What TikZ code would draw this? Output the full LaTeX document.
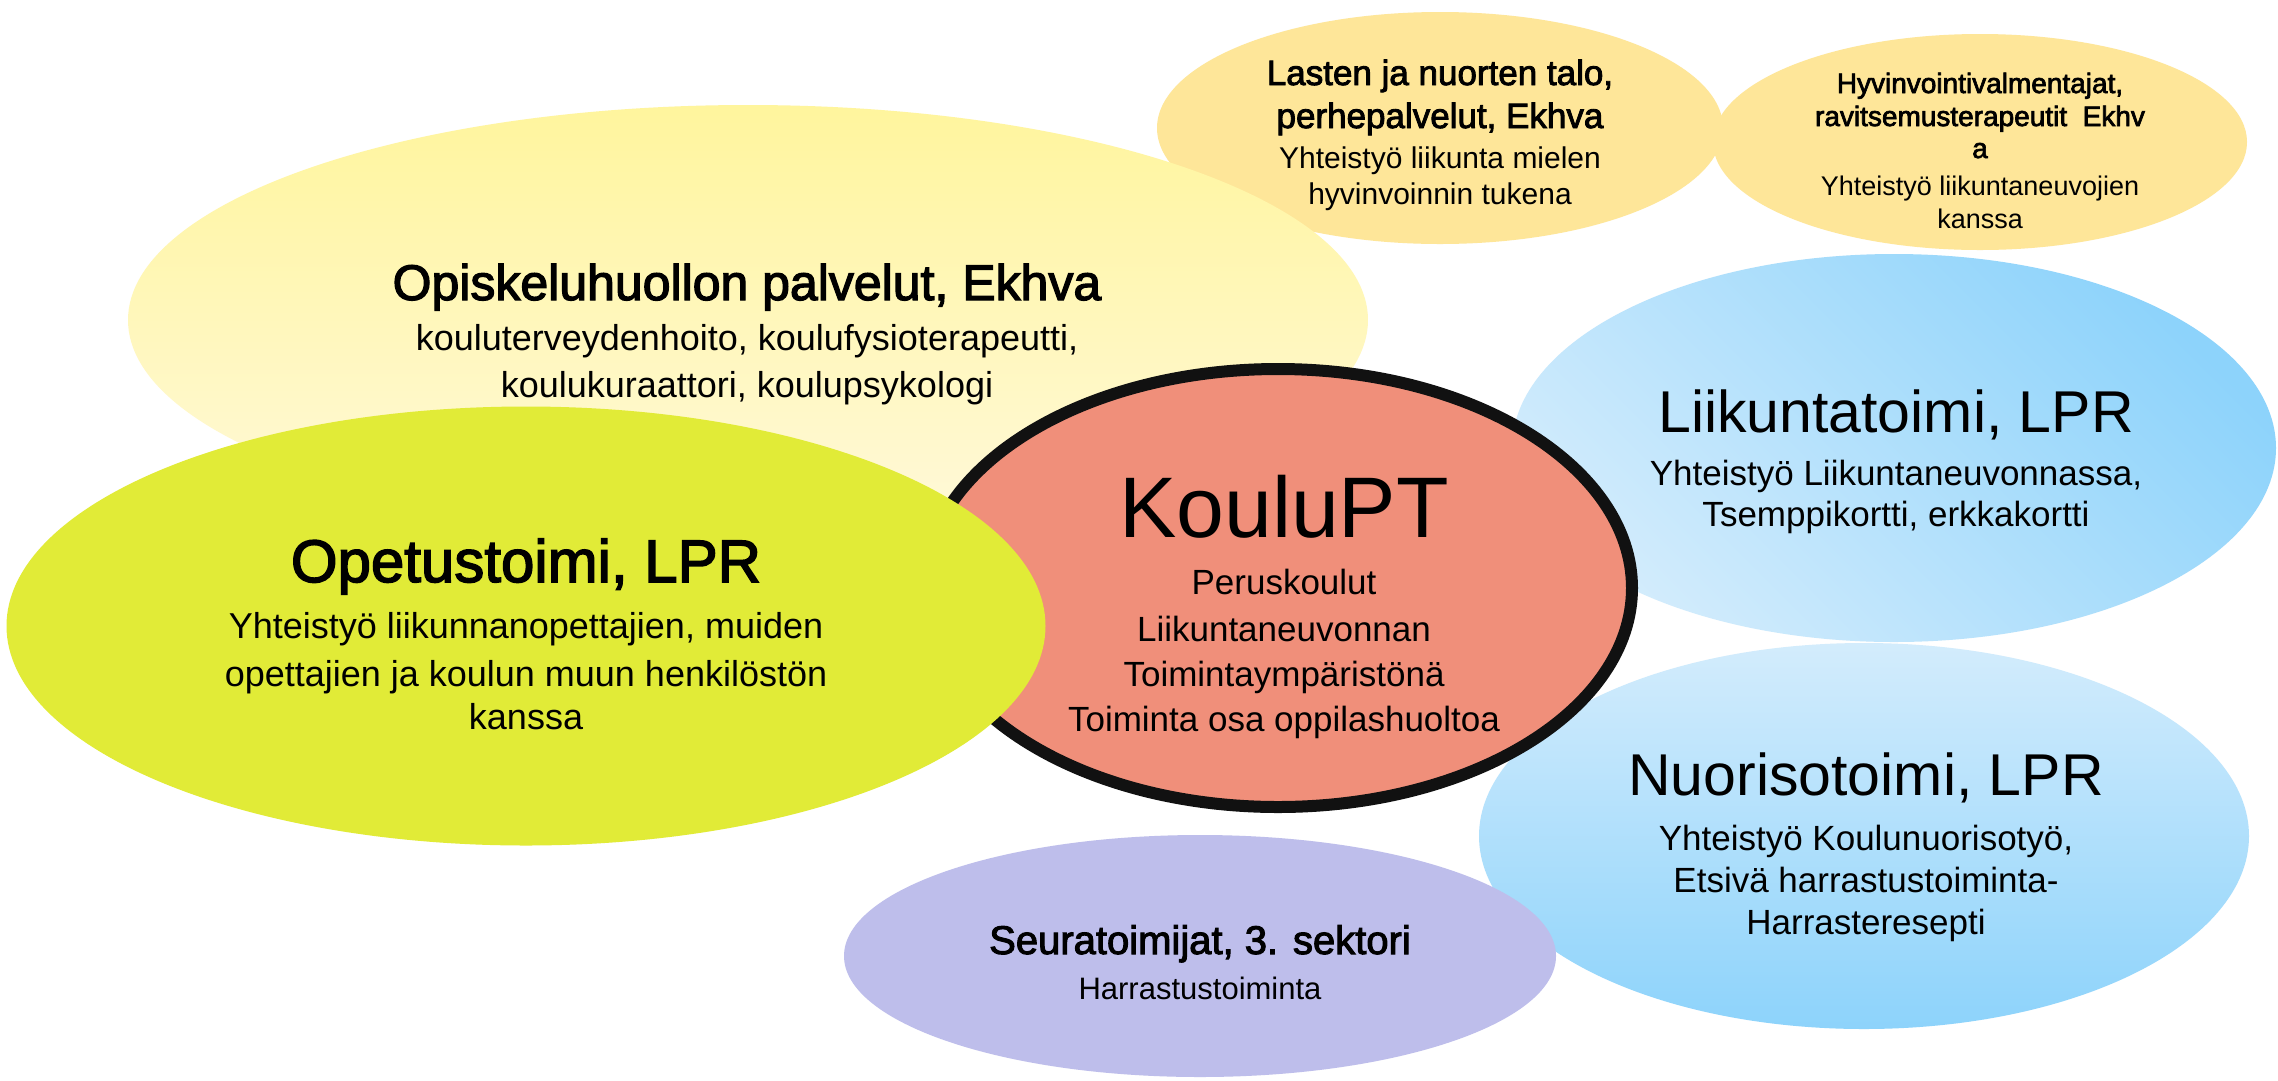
\documentclass[tikz,border=0pt]{standalone}
\usepackage{fontspec}
\setmainfont{Liberation Sans}
\newfontfamily\medfont[FakeBold=2.5]{Liberation Sans}
\usetikzlibrary{shapes.geometric}
\definecolor{yelTop}{HTML}{FFF59D}
\definecolor{yelBot}{HTML}{FFF9DA}
\definecolor{cLime}{HTML}{E1EB37}
\definecolor{cSalmon}{HTML}{F08F7A}
\definecolor{cGold}{HTML}{FEE699}
\definecolor{cPurple}{HTML}{BEBEEB}
\definecolor{cBlueL}{HTML}{D3ECFC}
\definecolor{cBlueD}{HTML}{8DD3FB}
\definecolor{cBorder}{HTML}{111111}
\tikzset{
  blob/.style={ellipse, inner sep=0pt, outer sep=0pt, draw=none},
  txt/.style={anchor=base, inner sep=0pt, font=\fontsize{#1}{#1}\selectfont},
  medtxt/.style={anchor=base, inner sep=0pt, font=\medfont\fontsize{#1}{#1}\selectfont}
}
\begin{document}
\begin{tikzpicture}[x=1pt,y=-1pt]
\path[use as bounding box, fill=white] (0,0) rectangle (2278,1080);
% ellipses, back to front
\node[blob, minimum width=566pt, minimum height=232pt, fill=cGold] (lasten) at (1440,128) {};
\node[blob, minimum width=534pt, minimum height=216pt, fill=cGold] (hyv) at (1980,142) {};
\node[blob, minimum width=1240pt, minimum height=430pt, top color=yelTop, bottom color=yelBot] (opis) at (748,320) {};
\node[blob, minimum width=764pt, minimum height=388pt, top color=cBlueD, bottom color=cBlueL, shading angle=-45] (liik) at (1894,448) {};
\node[blob, minimum width=770pt, minimum height=386pt, top color=cBlueL, bottom color=cBlueD] (nuor) at (1864,836) {};
\node[blob, minimum width=712pt, minimum height=242pt, fill=cPurple] (seura) at (1200,956) {};
\node[blob, minimum width=708pt, minimum height=438pt, fill=cSalmon, draw=cBorder, line width=12pt] (koulu) at (1278,588) {};
\node[blob, minimum width=1039pt, minimum height=439pt, fill=cLime] (opet) at (526,626) {};
% Opiskeluhuolto
\node[medtxt=50] (opisT) at (747,300) {Opiskeluhuollon palvelut, Ekhva};
\node[txt=36] (opis1) at (747,350) {kouluterveydenhoito, koulufysioterapeutti,};
\node[txt=36] (opis2) at (747,397) {koulukuraattori, koulupsykologi};
% Opetustoimi
\node[medtxt=60] (opetT) at (526,582) {Opetustoimi, LPR};
\node[txt=36] (opet1) at (526,638) {Yhteistyö liikunnanopettajien, muiden};
\node[txt=36] (opet2) at (526,686) {opettajien ja koulun muun henkilöstön};
\node[txt=36] (opet3) at (526,729) {kanssa};
% KouluPT
\node[txt=86] (kouluT) at (1284,537) {KouluPT};
\node[txt=35] (koulu1) at (1284,594) {Peruskoulut};
\node[txt=35] (koulu2) at (1284,641) {Liikuntaneuvonnan};
\node[txt=35] (koulu3) at (1284,686) {Toimintaympäristönä};
\node[txt=35] (koulu4) at (1284,731) {Toiminta osa oppilashuoltoa};
% Lasten ja nuorten talo
\node[medtxt=35] (lastenT1) at (1440,85) {Lasten ja nuorten talo,};
\node[medtxt=35] (lastenT2) at (1440,128) {perhepalvelut, Ekhva};
\node[txt=30] (lasten1) at (1440,168) {Yhteistyö liikunta mielen};
\node[txt=30] (lasten2) at (1440,204) {hyvinvoinnin tukena};
% Hyvinvointivalmentajat
\node[medtxt=28] (hyvT1) at (1980,93) {Hyvinvointivalmentajat,};
\node[medtxt=28] (hyvT2) at (1980,126) {ravitsemusterapeutit\ \ Ekhv};
\node[medtxt=28] (hyvT3) at (1980,158) {a};
\node[txt=27] (hyv1) at (1980,195) {Yhteistyö liikuntaneuvojien};
\node[txt=27] (hyv2) at (1980,228) {kanssa};
% Liikuntatoimi
\node[txt=59] (liikT) at (1896,432) {Liikuntatoimi, LPR};
\node[txt=35] (liik1) at (1896,485) {Yhteistyö Liikuntaneuvonnassa,};
\node[txt=35] (liik2) at (1896,526) {Tsemppikortti, erkkakortti};
% Nuorisotoimi
\node[txt=59] (nuorT) at (1866,795) {Nuorisotoimi, LPR};
\node[txt=35] (nuor1) at (1866,850) {Yhteistyö Koulunuorisotyö,};
\node[txt=35] (nuor2) at (1866,892) {Etsivä harrastustoiminta-};
\node[txt=35] (nuor3) at (1866,934) {Harrasteresepti};
% Seuratoimijat
\node[medtxt=40] (seuraT) at (1200,954) {Seuratoimijat, 3. sektori};
\node[txt=31] (seura1) at (1200,999) {Harrastustoiminta};
\end{tikzpicture}
\end{document}
